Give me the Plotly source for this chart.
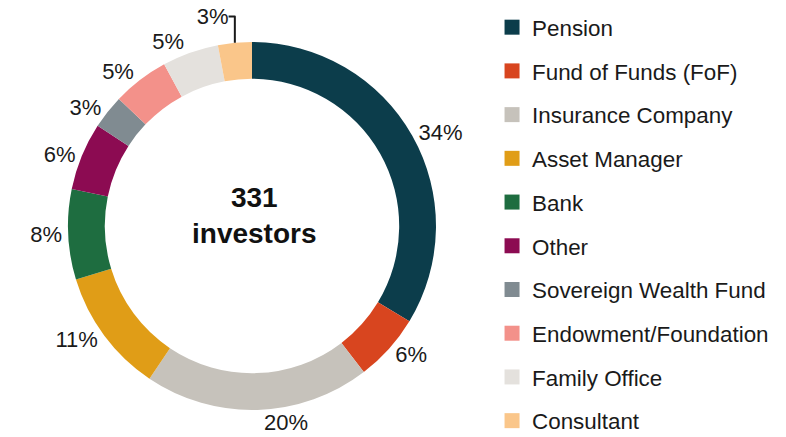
import plotly.graph_objects as go

categories = ["Pension", "Fund of Funds (FoF)", "Insurance Company", "Asset Manager",
              "Bank", "Other", "Sovereign Wealth Fund", "Endowment/Foundation",
              "Family Office", "Consultant"]
shares = [34, 6, 20, 11, 8, 6, 3, 5, 5, 3]
colors = ["#0C3D4B", "#D8451F", "#C6C2BB", "#E09D17", "#1E6D40",
          "#8C0B52", "#808B91", "#F3918A", "#E4E1DD", "#FAC68A"]
total_investors = 331

FONT = "Liberation Sans, Arial, sans-serif"

fig = go.Figure()
fig.add_trace(go.Pie(
    labels=categories, values=shares, sort=False, direction="clockwise",
    hole=0.8, marker=dict(colors=colors, line=dict(width=0)),
    textposition="outside", texttemplate="%{percent:.0%}",
    textfont=dict(family=FONT, size=22, color="#1a1a1a"),
    showlegend=False, automargin=False,
    domain=dict(x=[0.0865, 0.5547], y=[0.0618, 0.9039]),
))

for name, col in zip(categories, colors):
    fig.add_trace(go.Scatter(
        x=[None], y=[None], mode="markers", name=name, legendgroup=name,
        marker=dict(symbol="square", size=15, color=col),
    ))

fig.add_annotation(
    text=f"<b>{total_investors}</b><br><b>investors</b>",
    x=0.3244, y=0.508, xref="paper", yref="paper", showarrow=False,
    xanchor="center", yanchor="middle",
    font=dict(family=FONT, size=28, color="#111111"),
)

fig.update_layout(
    width=786, height=437,
    margin=dict(l=0, r=0, t=0, b=0, autoexpand=False),
    paper_bgcolor="white", plot_bgcolor="white",
    xaxis=dict(visible=False), yaxis=dict(visible=False),
    legend=dict(x=0.626, y=0.986, xanchor="left", yanchor="top",
                font=dict(family=FONT, size=22.4, color="#1a1a1a"),
                tracegroupgap=11.6, bgcolor="rgba(0,0,0,0)"),
)

fig.write_html("out.html", config={"displayModeBar": False},
               post_script="document.body.style.margin='0px';")
